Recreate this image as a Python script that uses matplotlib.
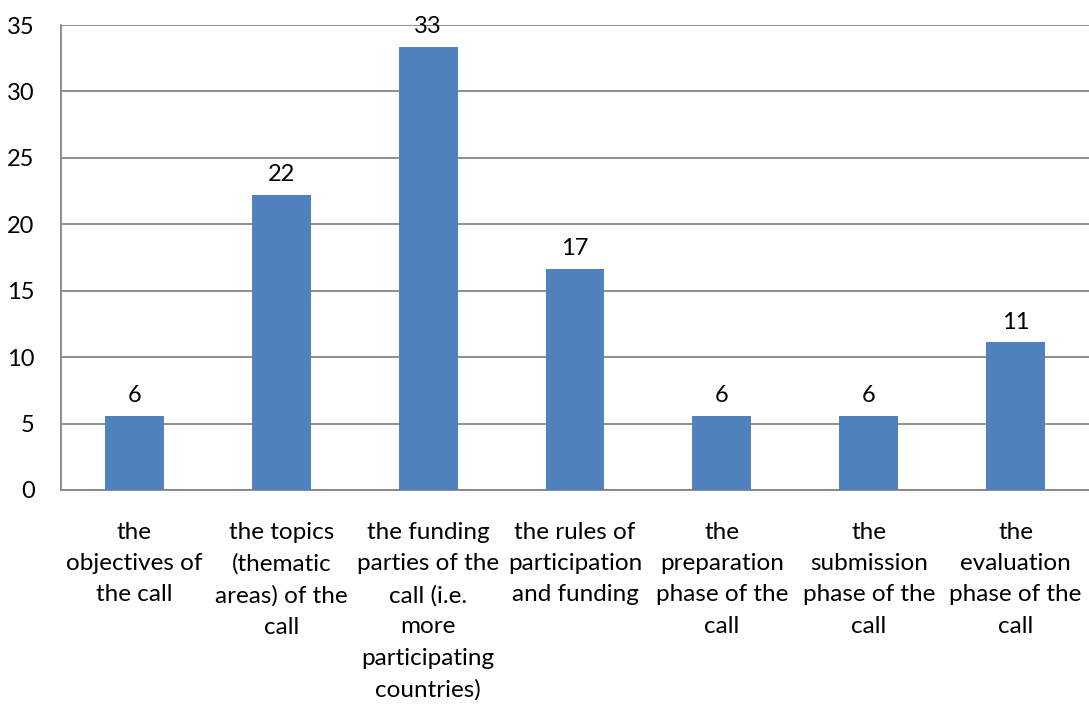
import numpy as np
import matplotlib.pyplot as plt

plt.rcParams['font.family'] = ['Lato', 'DejaVu Sans']

categories = [
    "the\nobjectives of\nthe call",
    "the topics\n(thematic\nareas) of the\ncall",
    "the funding\nparties of the\ncall (i.e.\nmore\nparticipating\ncountries)",
    "the rules of\nparticipation\nand funding",
    "the\npreparation\nphase of the\ncall",
    "the\nsubmission\nphase of the\ncall",
    "the\nevaluation\nphase of the\ncall",
]
values = [5.56, 22.22, 33.33, 16.67, 5.56, 5.56, 11.11]
value_labels = ["6", "22", "33", "17", "6", "6", "11"]

fig = plt.figure(figsize=(10.89, 7.06), dpi=100)
ax = fig.add_axes([61 / 1089, 1 - 490 / 706, 1028 / 1089, 465 / 706])

x = np.arange(len(categories))
bars = ax.bar(x, values, width=0.4, color="#4f81bd", zorder=3)

for b, lab in zip(bars, value_labels):
    ax.annotate(lab, (b.get_x() + b.get_width() / 2, b.get_height()),
                xytext=(0, 7), textcoords="offset points",
                ha="center", va="bottom", fontsize=17, color="black", zorder=4)

ax.set_xlim(-0.5, len(categories) - 0.5)
ax.set_ylim(0, 35)
ax.set_yticks(range(0, 36, 5))
ax.yaxis.grid(True, color="#868686", linewidth=1.3, zorder=0)
ax.set_axisbelow(True)

ax.set_xticks(x)
ax.set_xticklabels(categories, fontsize=17.5, linespacing=1.6, va="top")
ax.tick_params(axis="x", length=0, pad=23)
ax.tick_params(axis="y", length=0, pad=19, labelsize=17)

for s in ["top", "right"]:
    ax.spines[s].set_visible(False)
for s in ["left", "bottom"]:
    ax.spines[s].set_color("#868686")
    ax.spines[s].set_linewidth(1.3)

fig.savefig("out.png", dpi=100)
